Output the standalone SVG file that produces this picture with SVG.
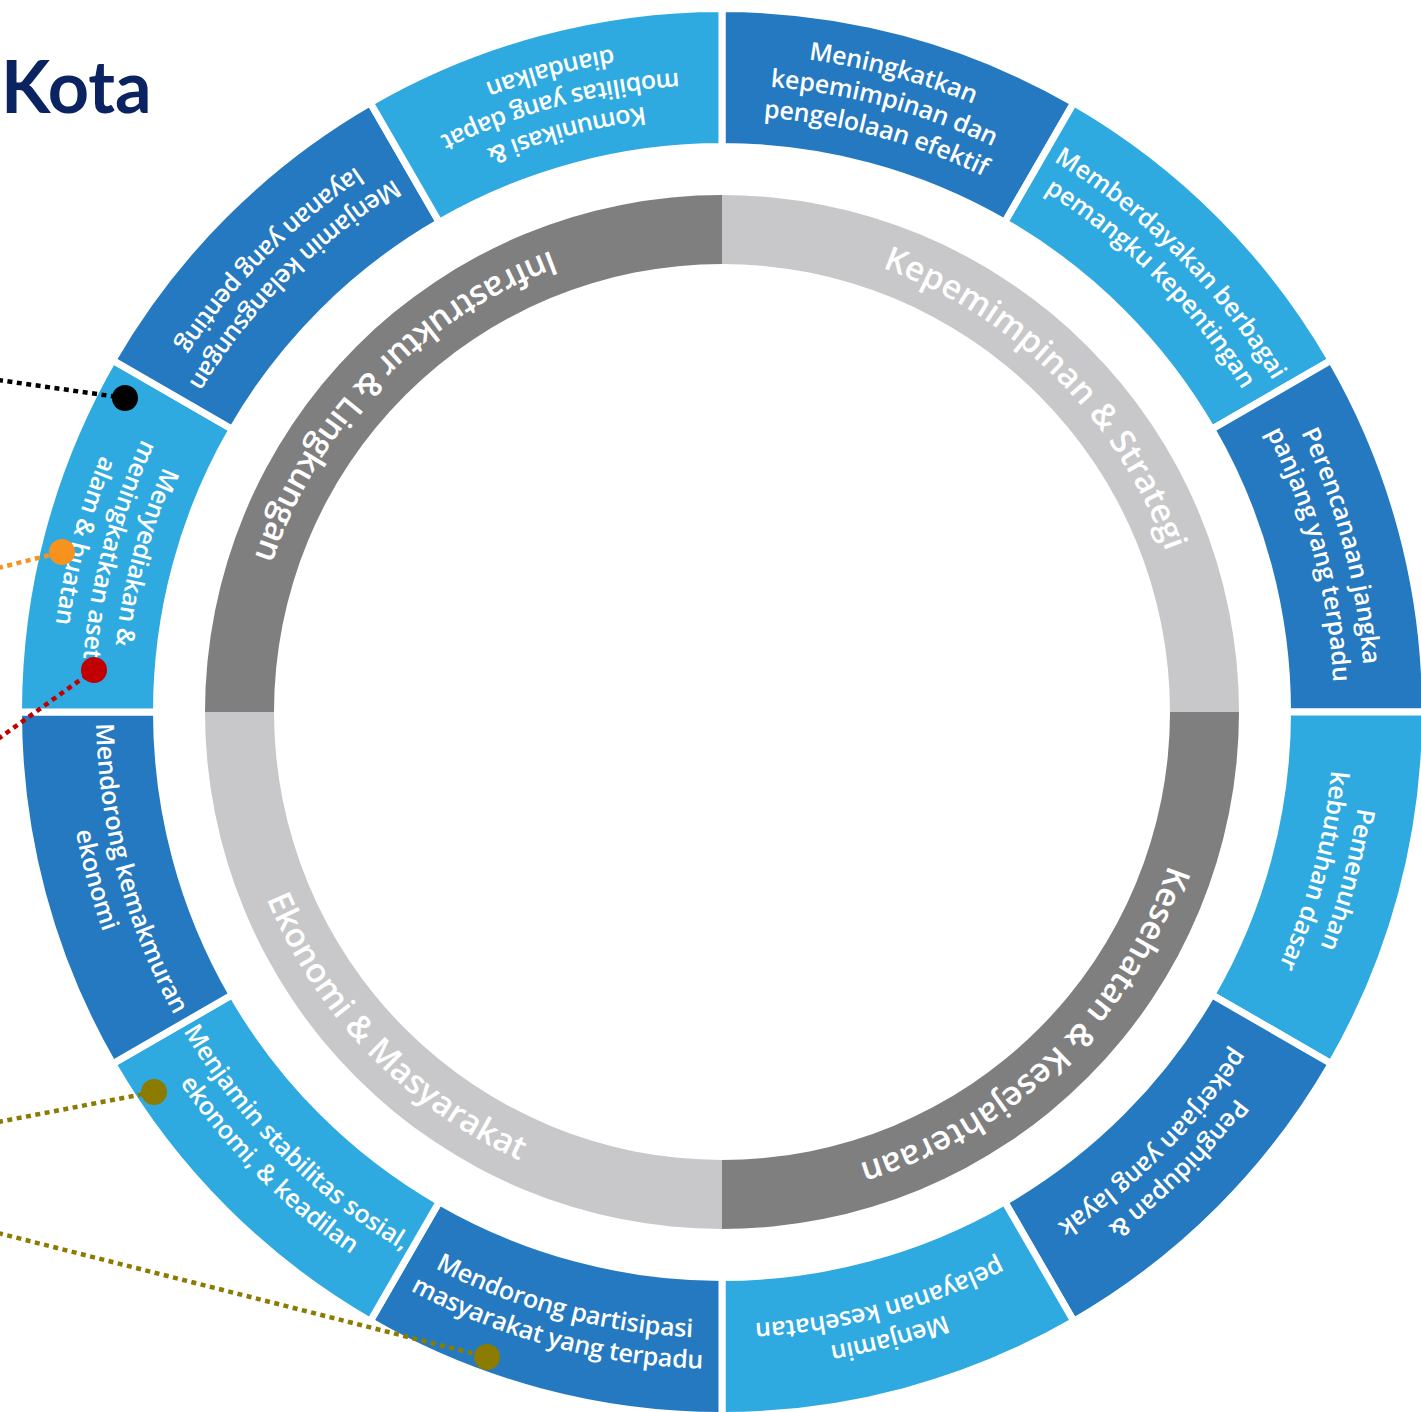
<svg xmlns="http://www.w3.org/2000/svg" xmlns:xlink="http://www.w3.org/1999/xlink" width="1421" height="1412" viewBox="0 0 1421 1412">
<style>
.dk{fill:#2479c0;stroke:#fff;stroke-width:7}
.lt{fill:#2eaae1;stroke:#fff;stroke-width:7}
.gl{fill:#c8c7c9}
.gd{fill:#807f80}
.st{font-family:"Open Sans","Liberation Sans",sans-serif;font-weight:600;font-size:25px;letter-spacing:-0.2px;fill:#fff}
.it{font-family:"Open Sans","Liberation Sans",sans-serif;font-weight:600;font-size:33.5px;fill:#fff}
.title{font-family:Lato,"Liberation Sans",sans-serif;font-weight:700;font-size:72px;fill:#0b2360}
.dl{fill:none;stroke-width:4.5;stroke-dasharray:5 4.5}
</style>
<defs>
<path id="seg" d="M722,8.5 A703.5,703.5 0 0 1 1073.75,102.75 L1004.75,222.26 A565.5,565.5 0 0 0 722,146.5 Z"/>
<path id="quad" d="M722,195 A517,517 0 0 1 1239,712 L1170,712 A448,448 0 0 0 722,264 Z"/>
<path id="t658" d="M218,289 A658,658 0 0 1 1226,289"/>
<path id="t627" d="M241.7,309 A627,627 0 0 1 1202.3,309"/>
<path id="t596" d="M265.5,328.9 A596,596 0 0 1 1178.5,328.9"/>
<path id="t643" d="M229.5,298.7 A643,643 0 0 1 1214.5,298.7"/>
<path id="t612" d="M253.2,318.6 A612,612 0 0 1 1190.8,318.6"/>
<path id="t472" d="M360.4,408.6 A472,472 0 0 1 1083.6,408.6"/>
<path id="b610" d="M254.7,1104.1 A610,610 0 0 0 1189.3,1104.1"/>
<path id="b641" d="M231,1124 A641,641 0 0 0 1213,1124"/>
<path id="b672" d="M207.2,1144 A672,672 0 0 0 1236.8,1144"/>
<path id="b626" d="M242.5,1114.4 A626,626 0 0 0 1201.5,1114.4"/>
<path id="b657" d="M218.7,1134.3 A657,657 0 0 0 1225.3,1134.3"/>
<path id="b492" d="M345.1,1028.3 A492,492 0 0 0 1098.9,1028.3"/>
</defs>
<rect width="1421" height="1412" fill="#fff"/>

<text class="title" x="1" y="113">Kota</text>

<g id="inner-ring">
<g id="kepemimpinan-strategi">
<use href="#quad" class="gl"/>
<g transform="rotate(45 722 712)"><text class="it" text-anchor="middle"><textPath href="#t472" startOffset="50%">Kepemimpinan &amp; Strategi</textPath></text></g>
</g>
<g id="kesehatan-kesejahteraan">
<use href="#quad" class="gd" transform="rotate(90 722 712)"/>
<g transform="rotate(136 722 712)"><text class="it" text-anchor="middle"><textPath href="#t472" startOffset="50%">Kesehatan &amp; Kesejahteraan</textPath></text></g>
</g>
<g id="ekonomi-masyarakat">
<use href="#quad" class="gl" transform="rotate(180 722 712)"/>
<g transform="rotate(46 722 712)"><text class="it" text-anchor="middle"><textPath href="#b492" startOffset="50%">Ekonomi &amp; Masyarakat</textPath></text></g>
</g>
<g id="infrastruktur-lingkungan">
<use href="#quad" class="gd" transform="rotate(270 722 712)"/>
<g transform="rotate(134 722 712)"><text class="it" text-anchor="middle"><textPath href="#b492" startOffset="50%">Infrastruktur &amp; Lingkungan</textPath></text></g>
</g>
</g>

<g id="outer-ring">
<g id="s01">
<use href="#seg" class="dk"/>
<g transform="rotate(15 722 712)" class="st" text-anchor="middle">
<text><textPath href="#t658" startOffset="50%">Meningkatkan</textPath></text>
<text><textPath href="#t627" startOffset="50%">kepemimpinan dan</textPath></text>
<text><textPath href="#t596" startOffset="50%">pengelolaan efektif</textPath></text>
</g>
</g>
<g id="s02">
<use href="#seg" class="lt" transform="rotate(30 722 712)"/>
<g transform="rotate(45 722 712)" class="st" text-anchor="middle">
<text><textPath href="#t643" startOffset="50%">Memberdayakan berbagai</textPath></text>
<text><textPath href="#t612" startOffset="50%">pemangku kepentingan</textPath></text>
</g>
</g>
<g id="s03">
<use href="#seg" class="dk" transform="rotate(60 722 712)"/>
<g transform="rotate(75 722 712)" class="st" text-anchor="middle">
<text><textPath href="#t643" startOffset="50%">Perencanaan jangka</textPath></text>
<text><textPath href="#t612" startOffset="50%">panjang yang terpadu</textPath></text>
</g>
</g>
<g id="s04">
<use href="#seg" class="lt" transform="rotate(90 722 712)"/>
<g transform="rotate(105 722 712)" class="st" text-anchor="middle">
<text><textPath href="#t643" startOffset="50%">Pemenuhan</textPath></text>
<text><textPath href="#t612" startOffset="50%">kebutuhan dasar</textPath></text>
</g>
</g>
<g id="s05">
<use href="#seg" class="dk" transform="rotate(120 722 712)"/>
<g transform="rotate(135 722 712)" class="st" text-anchor="middle">
<text><textPath href="#t643" startOffset="50%">Penghidupan &amp;</textPath></text>
<text><textPath href="#t612" startOffset="50%">pekerjaan yang layak</textPath></text>
</g>
</g>
<g id="s06">
<use href="#seg" class="lt" transform="rotate(150 722 712)"/>
<g transform="rotate(165 722 712)" class="st" text-anchor="middle">
<text><textPath href="#t643" startOffset="50%">Menjamin</textPath></text>
<text><textPath href="#t612" startOffset="50%">pelayanan kesehatan</textPath></text>
</g>
</g>
<g id="s07">
<use href="#seg" class="dk" transform="rotate(180 722 712)"/>
<g transform="rotate(15 722 712)" class="st" text-anchor="middle">
<text><textPath href="#b626" startOffset="50%">Mendorong partisipasi</textPath></text>
<text><textPath href="#b657" startOffset="50%">masyarakat yang terpadu</textPath></text>
</g>
</g>
<g id="s08">
<use href="#seg" class="lt" transform="rotate(210 722 712)"/>
<g transform="rotate(45 722 712)" class="st" text-anchor="middle">
<text><textPath href="#b626" startOffset="50%">Menjamin stabilitas sosial,</textPath></text>
<text><textPath href="#b657" startOffset="50%">ekonomi, &amp; keadilan</textPath></text>
</g>
</g>
<g id="s09">
<use href="#seg" class="dk" transform="rotate(240 722 712)"/>
<g transform="rotate(75 722 712)" class="st" text-anchor="middle">
<text><textPath href="#b626" startOffset="50%">Mendorong kemakmuran</textPath></text>
<text><textPath href="#b657" startOffset="50%">ekonomi</textPath></text>
</g>
</g>
<g id="s10">
<use href="#seg" class="lt" transform="rotate(270 722 712)"/>
<g transform="rotate(105 722 712)" class="st" text-anchor="middle">
<text><textPath href="#b610" startOffset="50%">Menyediakan &amp;</textPath></text>
<text><textPath href="#b641" startOffset="50%">meningkatkan aset</textPath></text>
<text><textPath href="#b672" startOffset="50%">alam &amp; buatan</textPath></text>
</g>
</g>
<g id="s11">
<use href="#seg" class="dk" transform="rotate(300 722 712)"/>
<g transform="rotate(135 722 712)" class="st" text-anchor="middle">
<text><textPath href="#b626" startOffset="50%">Menjamin kelangsungan</textPath></text>
<text><textPath href="#b657" startOffset="50%">layanan yang penting</textPath></text>
</g>
</g>
<g id="s12">
<use href="#seg" class="lt" transform="rotate(330 722 712)"/>
<g transform="rotate(165 722 712)" class="st" text-anchor="middle">
<text><textPath href="#b610" startOffset="50%">Komunikasi &amp;</textPath></text>
<text><textPath href="#b641" startOffset="50%">mobilitas yang dapat</textPath></text>
<text><textPath href="#b672" startOffset="50%">diandalkan</textPath></text>
</g>
</g>
</g>

<g id="connectors">
<line class="dl" x1="-2" y1="380" x2="125" y2="398" stroke="#000"/>
<line class="dl" x1="-2" y1="568" x2="62" y2="552" stroke="#f7921e"/>
<line class="dl" x1="-2" y1="739" x2="94" y2="670" stroke="#c00000"/>
<line class="dl" x1="-2" y1="1122" x2="154" y2="1092" stroke="#8b7b00"/>
<line class="dl" x1="-2" y1="1233" x2="487" y2="1357" stroke="#8b7b00"/>
</g>
<g id="markers">
<circle cx="125" cy="398" r="13" fill="#000"/>
<circle cx="62" cy="552" r="13" fill="#f7921e"/>
<circle cx="94" cy="670" r="13" fill="#c00000"/>
<circle cx="154" cy="1092" r="13" fill="#8b7b00"/>
<circle cx="487" cy="1357" r="13" fill="#8b7b00"/>
</g>
</svg>
